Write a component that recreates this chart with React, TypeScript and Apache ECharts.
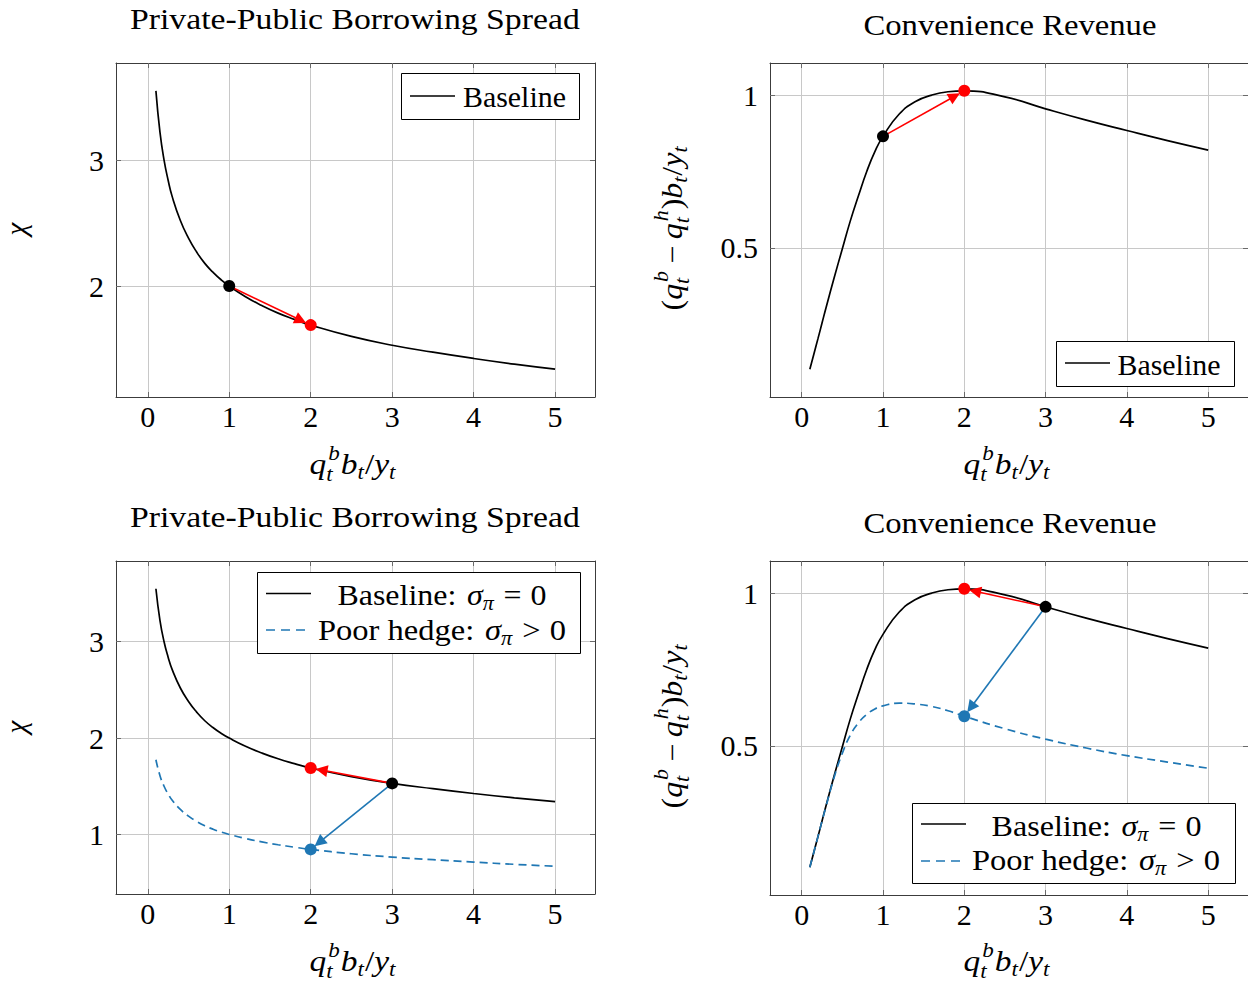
import React, { useEffect, useRef } from 'react';
import * as echarts from 'echarts';

// ---------------- data ----------------
const X = [0.1, 0.15, 0.2, 0.25, 0.3, 0.4, 0.5, 0.6, 0.7, 0.8, 0.9, 1.0, 1.2, 1.4, 1.6, 1.8, 2.0, 2.5, 3.0, 3.5, 4.0, 4.5, 5.0];
const chiBaseline = [3.55, 3.22, 3.0, 2.84, 2.71, 2.52, 2.38, 2.27, 2.18, 2.11, 2.05, 2.0, 1.915, 1.845, 1.785, 1.735, 1.69, 1.6, 1.53, 1.475, 1.425, 1.38, 1.34];
const chiPoorHedge = [1.775, 1.61, 1.5, 1.42, 1.355, 1.26, 1.19, 1.135, 1.09, 1.055, 1.025, 1.0, 0.958, 0.923, 0.893, 0.868, 0.845, 0.8, 0.765, 0.738, 0.713, 0.69, 0.67];
const revBaseline = [0.103, 0.153, 0.203, 0.254, 0.305, 0.403, 0.497, 0.59, 0.672, 0.75, 0.815, 0.865, 0.938, 0.979, 1.0, 1.011, 1.014, 0.994, 0.955, 0.918, 0.884, 0.851, 0.82];
const revPoorHedge = [0.103, 0.153, 0.203, 0.254, 0.303, 0.398, 0.476, 0.536, 0.576, 0.603, 0.621, 0.631, 0.64, 0.637, 0.629, 0.615, 0.597, 0.556, 0.522, 0.493, 0.468, 0.447, 0.427];

const xTicks = [0, 1, 2, 3, 4, 5];
const chiTicksTop = [2, 3];
const chiTicksBottom = [1, 2, 3];
const revTicks = [0.5, 1];

const titles = ['Private-Public Borrowing Spread', 'Convenience Revenue', 'Private-Public Borrowing Spread', 'Convenience Revenue'];
const legendBaseline = 'Baseline';
const legendBaselineSigma = 'Baseline:';
const legendPoor = 'Poor hedge:';

// transition points [x, y]
const tlFrom = [1, 2.0];
const tlTo = [2, 1.69];
const trFrom = [1, 0.865];
const trTo = [2, 1.014];
const blFrom = [3, 1.53];
const blToRed = [2, 1.69];
const blToBlue = [2, 0.845];
const brFrom = [3, 0.955];
const brToRed = [2, 1.014];
const brToBlue = [2, 0.597];

// ---------------- styles ----------------
const FONT = '"Liberation Serif", "Times New Roman", Times, serif';
const FRAME = '#3c3c3c';
const GRIDC = '#c8c8c8';
const TICKC = '#6a6a6a';
const RED = '#ff0000';
const BLUE = '#1f77b4';
const BLACK = '#000000';
const LW = 1.7;
const CENTRAL = 0.2; // em offset between text middle and baseline

const X_RANGE = [-0.39, 5.49];
const Y_RANGES = [[1.119, 3.771], [0.012, 1.105], [0.382, 3.838], [0.012, 1.105]];
const Y_TICKS = [chiTicksTop, revTicks, chiTicksBottom, revTicks];
const GRIDS = [
  { left: 116, top: 63, width: 479, height: 334 },
  { left: 770, top: 63, width: 479, height: 334 },
  { left: 116, top: 561, width: 479, height: 333 },
  { left: 770, top: 561, width: 479, height: 334 },
];

let mctx: CanvasRenderingContext2D | null = null;
function measure(t: string, size: number, it: boolean) {
  if (!mctx) mctx = document.createElement('canvas').getContext('2d');
  mctx!.font = `${it ? 'italic ' : ''}${size}px ${FONT}`;
  return mctx!.measureText(t).width;
}
function textEl(t: string, x: number, baseline: number, size: number, it: boolean, fill = '#000') {
  return {
    type: 'text', x, y: baseline - CENTRAL * size, z: 120,
    style: { text: t, fontSize: size, fontFamily: FONT, fontStyle: it ? 'italic' : 'normal', fill, align: 'left', verticalAlign: 'middle' },
  };
}
type P = { t?: string; it?: boolean; sup?: string; sub?: string; gl?: number; gr?: number };
function buildMath(pieces: P[], size: number) {
  const ss = Math.round(size * 0.7);
  let x = 0;
  const els: any[] = [];
  for (const p of pieces) {
    x += (p.gl || 0) * size;
    if (p.t !== undefined) {
      els.push(textEl(p.t, x, 0, size, !!p.it));
      x += measure(p.t, size, !!p.it);
    } else {
      let w = 0;
      if (p.sup) {
        const dx = 0.06 * size;
        els.push(textEl(p.sup, x + dx, -0.42 * size, ss, true));
        w = Math.max(w, dx + measure(p.sup, ss, true));
      }
      if (p.sub) {
        els.push(textEl(p.sub, x, (p.sup ? 0.3 : 0.22) * size, ss, true));
        w = Math.max(w, measure(p.sub, ss, true));
      }
      x += w + 0.03 * size;
    }
    x += (p.gr || 0) * size;
  }
  return { els, width: x };
}
function mathGroup(pieces: P[], size: number, gx: number, gy: number, targetW?: number, rotation = 0) {
  const { els, width } = buildMath(pieces, size);
  els.forEach((e) => { e.x -= width / 2; });
  return { type: 'group', x: gx, y: gy, rotation, scaleX: targetW ? targetW / width : 1, children: els, z: 120 };
}

const xLabelPieces: P[] = [
  { t: 'q', it: true }, { sup: 'b', sub: 't' }, { t: 'b', it: true }, { sub: 't' }, { t: '/' }, { t: 'y', it: true }, { sub: 't' },
];
const revLabelPieces: P[] = [
  { t: '(' }, { t: 'q', it: true }, { sup: 'b', sub: 't' }, { t: '\u2212', gl: 0.2, gr: 0.2 }, { t: 'q', it: true }, { sup: 'h', sub: 't' },
  { t: ')' }, { t: 'b', it: true }, { sub: 't' }, { t: '/' }, { t: 'y', it: true }, { sub: 't' },
];
const sigmaPieces = (lead: string, rel: string): P[] => [
  { t: lead, gr: 0.33 }, { t: '\u03c3', it: true }, { sub: '\u03c0' }, { t: rel, gl: 0.28, gr: 0.28 }, { t: '0' },
];

function makeX(g: number) {
  const common = { gridIndex: g, type: 'value', min: X_RANGE[0], max: X_RANGE[1] };
  return [
    {
      ...common, position: 'bottom',
      axisLine: { show: true, onZero: false, lineStyle: { color: FRAME, width: 1 } },
      axisTick: { show: true, inside: true, length: 5, customValues: xTicks, lineStyle: { color: TICKC } },
      axisLabel: { show: true, customValues: xTicks, margin: 4, fontSize: 30, fontFamily: FONT, color: '#000' },
      splitLine: { show: true, lineStyle: { color: GRIDC, width: 1 } },
    },
    {
      ...common, position: 'top',
      axisLine: { show: true, onZero: false, lineStyle: { color: FRAME, width: 1 } },
      axisTick: { show: true, inside: true, length: 5, customValues: xTicks, lineStyle: { color: TICKC } },
      axisLabel: { show: false },
      splitLine: { show: false },
    },
  ];
}
function makeY(g: number) {
  const common = { gridIndex: g, type: 'value', min: Y_RANGES[g][0], max: Y_RANGES[g][1] };
  const ticks = Y_TICKS[g];
  return [
    {
      ...common, position: 'left',
      axisLine: { show: true, onZero: false, lineStyle: { color: FRAME, width: 1 } },
      axisTick: { show: true, inside: true, length: 5, customValues: ticks, lineStyle: { color: TICKC } },
      axisLabel: { show: true, customValues: ticks, margin: 12, fontSize: 30, fontFamily: FONT, color: '#000' },
      splitLine: { show: true, lineStyle: { color: GRIDC, width: 1 } },
    },
    {
      ...common, position: 'right',
      axisLine: { show: true, onZero: false, lineStyle: { color: FRAME, width: 1 } },
      axisTick: { show: true, inside: true, length: 5, customValues: ticks, lineStyle: { color: TICKC } },
      axisLabel: { show: false },
      splitLine: { show: false },
    },
  ];
}

const pairs = (ys: number[]) => X.map((x, i) => [x, ys[i]]);

function lineSeries(id: string, g: number, ys: number[], color: string, dashed: boolean) {
  return {
    id, type: 'line', xAxisIndex: 2 * g, yAxisIndex: 2 * g, data: pairs(ys),
    showSymbol: false, symbol: 'none', smooth: 0.5, silent: true, z: 3,
    lineStyle: { color, width: LW, type: dashed ? [8, 5] : 'solid' },
  };
}
function dotSeries(id: string, g: number, pt: number[], color: string) {
  return {
    id, type: 'scatter', xAxisIndex: 2 * g, yAxisIndex: 2 * g, data: [pt],
    symbol: 'circle', symbolSize: 12, silent: true, z: 10,
    itemStyle: { color, borderWidth: 0, opacity: 1 },
  };
}

const arrows = [
  { id: 'tl-red', g: 0, from: tlFrom, to: tlTo, color: RED },
  { id: 'tr-red', g: 1, from: trFrom, to: trTo, color: RED },
  { id: 'bl-red', g: 2, from: blFrom, to: blToRed, color: RED },
  { id: 'bl-blue', g: 2, from: blFrom, to: blToBlue, color: BLUE },
  { id: 'br-red', g: 3, from: brFrom, to: brToRed, color: RED },
  { id: 'br-blue', g: 3, from: brFrom, to: brToBlue, color: BLUE },
];

function legendBox(x: number, y: number, w: number, h: number) {
  return { type: 'rect', shape: { x: x + 0.5, y: y + 0.5, width: w, height: h }, style: { fill: '#fff', stroke: '#000', lineWidth: 1 }, z: 90 };
}
function legendLine(x1: number, x2: number, y: number, color: string, dashed: boolean) {
  return { type: 'line', shape: { x1, y1: y, x2, y2: y }, style: { stroke: color, lineWidth: LW, lineDash: dashed ? [9, 6] : null }, z: 95 };
}

function buildGraphic() {
  const els: any[] = [];
  // titles
  els.push(mathGroup([{ t: titles[0] }], 29, 355, 25, 450));
  els.push(mathGroup([{ t: titles[1] }], 29, 1010, 31, 293));
  els.push(mathGroup([{ t: titles[2] }], 29, 355, 523, 450));
  els.push(mathGroup([{ t: titles[3] }], 29, 1010, 529, 293));
  // x labels
  els.push(mathGroup(xLabelPieces, 29, 353, 470, 87));
  els.push(mathGroup(xLabelPieces, 29, 1007, 470, 87));
  els.push(mathGroup(xLabelPieces, 29, 353, 967, 87));
  els.push(mathGroup(xLabelPieces, 29, 1007, 967, 87));
  // y labels
  els.push(mathGroup([{ t: '\u03c7', it: true }], 29, 22, 229, undefined, Math.PI / 2));
  els.push(mathGroup([{ t: '\u03c7', it: true }], 29, 22, 727, undefined, Math.PI / 2));
  els.push(mathGroup(revLabelPieces, 29, 678, 228, 165, Math.PI / 2));
  els.push(mathGroup(revLabelPieces, 29, 678, 726, 165, Math.PI / 2));
  // legends
  els.push(legendBox(401, 73, 178, 46));
  els.push(legendLine(410, 455, 96, BLACK, false));
  els.push(mathGroup([{ t: legendBaseline }], 29, 514.5, 103.3, 103));

  els.push(legendBox(1056, 341, 178, 45));
  els.push(legendLine(1065, 1110, 363, BLACK, false));
  els.push(mathGroup([{ t: legendBaseline }], 29, 1169, 370.7, 103));

  els.push(legendBox(257, 572, 323, 81));
  els.push(legendLine(266, 311, 593.5, BLACK, false));
  els.push(legendLine(266, 308, 630, BLUE, true));
  els.push(mathGroup(sigmaPieces(legendBaselineSigma, '='), 29, 442, 601, 209));
  els.push(mathGroup(sigmaPieces(legendPoor, '>'), 29, 442, 636.5, 248));

  els.push(legendBox(912, 803, 323, 80));
  els.push(legendLine(921, 966, 824, BLACK, false));
  els.push(legendLine(921, 963, 861, BLUE, true));
  els.push(mathGroup(sigmaPieces(legendBaselineSigma, '='), 29, 1096.5, 832, 210));
  els.push(mathGroup(sigmaPieces(legendPoor, '>'), 29, 1096, 866.5, 248));
  return els;
}

export default function App() {
  const ref = useRef<HTMLDivElement>(null);
  useEffect(() => {
    if (!ref.current) return;
    const chart = echarts.init(ref.current, null, { renderer: 'svg' });
    const series: any[] = [
      lineSeries('l-tl', 0, chiBaseline, BLACK, false),
      dotSeries('tl-black', 0, tlFrom, BLACK),
      dotSeries('tl-red', 0, tlTo, RED),

      lineSeries('l-tr', 1, revBaseline, BLACK, false),
      dotSeries('tr-black', 1, trFrom, BLACK),
      dotSeries('tr-red', 1, trTo, RED),

      lineSeries('l-bl', 2, chiBaseline, BLACK, false),
      lineSeries('l-bl-poor', 2, chiPoorHedge, BLUE, true),
      dotSeries('bl-black', 2, blFrom, BLACK),
      dotSeries('bl-red', 2, blToRed, RED),
      dotSeries('bl-blue', 2, blToBlue, BLUE),

      lineSeries('l-br', 3, revBaseline, BLACK, false),
      lineSeries('l-br-poor', 3, revPoorHedge, BLUE, true),
      dotSeries('br-black', 3, brFrom, BLACK),
      dotSeries('br-red', 3, brToRed, RED),
      dotSeries('br-blue', 3, brToBlue, BLUE),
    ];
    chart.setOption({
      animation: false,
      backgroundColor: '#ffffff',
      textStyle: { fontFamily: FONT },
      grid: GRIDS.map((g) => ({ ...g, containLabel: false, show: false })),
      xAxis: [0, 1, 2, 3].flatMap((g) => makeX(g)),
      yAxis: [0, 1, 2, 3].flatMap((g) => makeY(g)),
      series,
      graphic: buildGraphic(),
    });
    // arrows: end shortened so the head stops at the target dot
    const upd = arrows.map((a) => {
      const finder = { xAxisIndex: 2 * a.g, yAxisIndex: 2 * a.g };
      const p0 = chart.convertToPixel(finder as any, a.from) as number[];
      const p1 = chart.convertToPixel(finder as any, a.to) as number[];
      const dx = p1[0] - p0[0];
      const dy = p1[1] - p0[1];
      const L = Math.hypot(dx, dy) || 1;
      const gap = 11;
      const e = chart.convertFromPixel(finder as any, [p1[0] - (dx / L) * gap, p1[1] - (dy / L) * gap]) as number[];
      return {
        id: a.id,
        markLine: {
          silent: true, animation: false, symbol: ['none', 'triangle'], symbolSize: 12,
          label: { show: false }, emphasis: { disabled: true },
          lineStyle: { color: a.color, width: 1.6, type: 'solid' },
          itemStyle: { color: a.color },
          data: [[{ coord: a.from }, { coord: e }]],
        },
      };
    });
    chart.setOption({ series: upd });
    return () => chart.dispose();
  }, []);
  return <div ref={ref} style={{ position: 'absolute', left: 0, top: 0, width: 1248, height: 983, background: '#fff' }} />;
}
